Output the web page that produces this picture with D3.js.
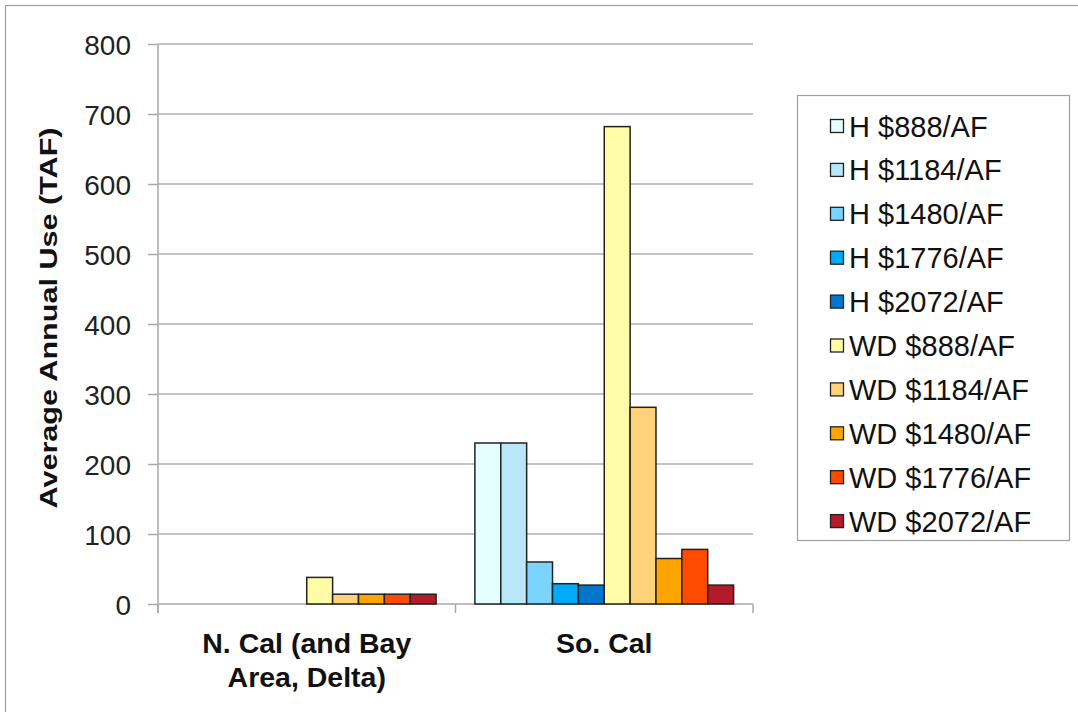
<!DOCTYPE html>
<html><head><meta charset="utf-8">
<script src="https://cdn.jsdelivr.net/npm/d3@7"></script>
<style>body{margin:0;background:#fff;} svg{display:block;font-family:"Liberation Sans",Arial,sans-serif;}</style>
</head><body>
<script>
const categories = [["N. Cal (and Bay", "Area, Delta)"], ["So. Cal"]];
const categoryKeys = ["N. Cal (and Bay Area, Delta)", "So. Cal"];
const seriesNames = ["H $888/AF","H $1184/AF","H $1480/AF","H $1776/AF","H $2072/AF",
  "WD $888/AF","WD $1184/AF","WD $1480/AF","WD $1776/AF","WD $2072/AF"];
const nCalValues = [0,0,0,0,0,38,14,14,14,14];
const soCalValues = [230,230,60,29,27,682,281,65,78,27];
const seriesColors = ["#e4fdfe","#b8e8f8","#7ad4fe","#00a9fa","#0077cc",
  "#fffba6","#fdd27a","#ffa400","#ff4b00","#b31b2b"];
const yTicks = [0,100,200,300,400,500,600,700,800];

(function(){
const W = 1078, H = 712;
const svg = d3.select("body").append("svg").attr("width", W).attr("height", H);
svg.append("rect").attr("x",5.5).attr("y",5.5).attr("width",W+10).attr("height",H+10)
  .attr("fill","none").attr("stroke","#a0a0a0").attr("stroke-width",1.2);

const pL = 158, pR = 753, pT = 44, pB = 604;
const y = d3.scaleLinear().domain([0,800]).range([pB, pT]);
const x0 = d3.scaleBand().domain(categoryKeys).range([pL, pR]).paddingInner(0).paddingOuter(0);
const x1 = d3.scaleBand().domain(seriesNames).range([0, x0.bandwidth()]).paddingOuter(0.75).paddingInner(0);

// gridlines
svg.append("g").selectAll("line").data(yTicks.filter(d=>d>0)).join("line")
  .attr("x1", pL).attr("x2", pR).attr("y1", d=>y(d)).attr("y2", d=>y(d))
  .attr("stroke","#b0b0b0").attr("stroke-width",1.5);

// y axis
const yAxis = svg.append("g").attr("transform",`translate(${pL},0)`)
  .call(d3.axisLeft(y).tickValues(yTicks).tickSize(10).tickPadding(17));
yAxis.select(".domain").attr("stroke","#a8a8a8").attr("stroke-width",1.5).attr("d",`M0,${pT}V${pB+9}`);
yAxis.selectAll(".tick line").attr("stroke","#a8a8a8").attr("stroke-width",1.5);
yAxis.selectAll(".tick text").attr("font-size",28).attr("dy","0.36em").attr("fill","#222")
  .attr("font-family","Liberation Sans, Arial, sans-serif");

// x axis
const xAxisG = svg.append("g").attr("transform",`translate(0,${pB})`);
xAxisG.append("line").attr("x1",pL).attr("x2",pR).attr("y1",0).attr("y2",0)
  .attr("stroke","#a8a8a8").attr("stroke-width",1.5);
const bounds = [x0(categoryKeys[0]), x0(categoryKeys[1]), pR];
xAxisG.selectAll("line.tk").data(bounds).join("line").attr("class","tk")
  .attr("x1",d=>d).attr("x2",d=>d).attr("y1",0).attr("y2",9)
  .attr("stroke","#a8a8a8").attr("stroke-width",1.5);

// category labels
categories.forEach((lines,i)=>{
  const cx = x0(categoryKeys[i]) + x0.bandwidth()/2;
  const t = svg.append("text").attr("x",cx).attr("y",653).attr("text-anchor","middle")
    .attr("font-size",28.5).attr("font-weight","bold").attr("fill","#111");
  lines.forEach((l,j)=> t.append("tspan").attr("x",cx).attr("dy", j===0?0:34).text(l));
});

// bars
const dataByCat = [nCalValues, soCalValues];
categoryKeys.forEach((c,ci)=>{
  const g = svg.append("g").attr("transform",`translate(${x0(c)},0)`);
  g.selectAll("rect").data(dataByCat[ci].map((v,i)=>({v,i})).filter(d=>d.v>0)).join("rect")
    .attr("x", d=>x1(seriesNames[d.i])).attr("width", x1.bandwidth())
    .attr("y", d=>y(d.v)).attr("height", d=>y(0)-y(d.v))
    .attr("fill", d=>seriesColors[d.i]).attr("stroke","#222").attr("stroke-width",1.5);
});

// y title (stretched along its length as in the reference)
svg.append("text").attr("transform","translate(57,318) rotate(-90) scale(1.33,1)").attr("text-anchor","middle")
  .attr("font-size",23).attr("font-weight","bold").attr("fill","#111").text("Average Annual Use (TAF)");

// legend
svg.append("rect").attr("x",797.5).attr("y",95.5).attr("width",272).attr("height",445)
  .attr("fill","#fff").attr("stroke","#a0a0a0").attr("stroke-width",1.2);
const lg = svg.append("g");
seriesNames.forEach((n,i)=>{
  const cy = 126 + i*43.9;
  lg.append("rect").attr("x",830.5).attr("y",cy-6.5).attr("width",13).attr("height",13)
    .attr("fill",seriesColors[i]).attr("stroke","#222").attr("stroke-width",1.3);
  lg.append("text").attr("x",849).attr("y",cy+10.5).attr("font-size",29).attr("fill","#111").text(n);
});
})();
</script>
</body></html>
